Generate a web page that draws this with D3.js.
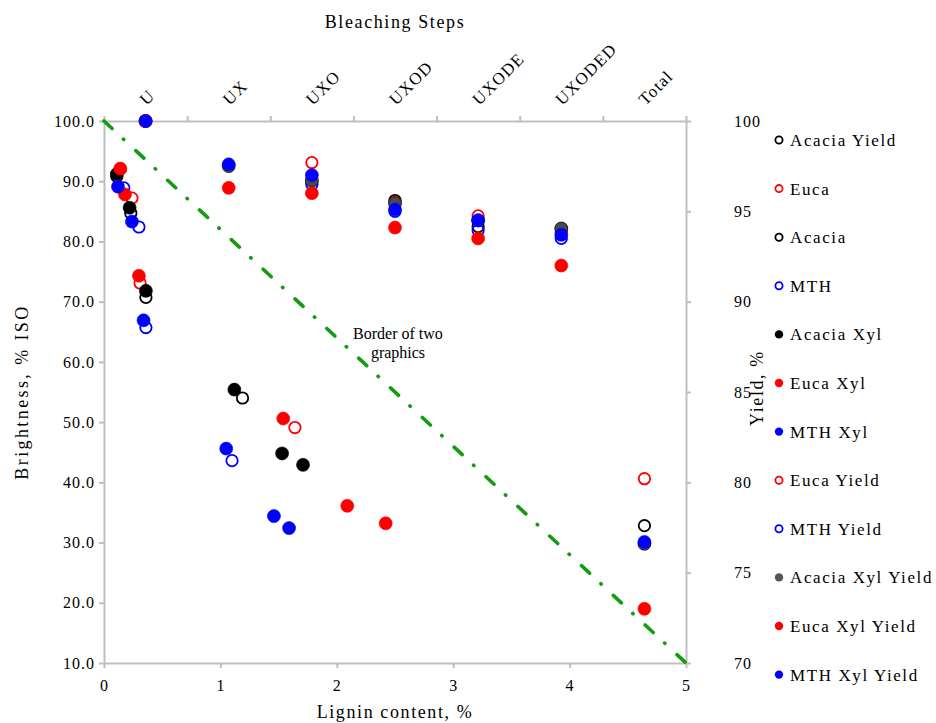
<!DOCTYPE html>
<html>
<head>
<meta charset="utf-8">
<style>
body { margin: 0; background: #fff; }
text { font-family: "Liberation Serif", "Times New Roman", serif; fill: #000; }
.axis path, .axis line { stroke: #bfbfbf; stroke-width: 2px; }
.axis text { font-size: 16px; letter-spacing: 1px; }
.title { font-size: 18px; letter-spacing: 1.6px; }
.legend text { font-size: 17px; letter-spacing: 1.6px; }
</style>
<title></title></head>
<body>
<script src="https://cdn.jsdelivr.net/npm/d3@7"></script>
<script>

// bleaching steps (top axis)
var steps = ["U", "UX", "UXO", "UXOD", "UXODE", "UXODED", "Total"];

// brightness vs lignin content (lower left graphic)
var eucaLignin = [0.14, 0.24, 0.31, 1.64];
var eucaBright = [92.0, 87.2, 73.1, 49.1];
var acaciaLignin = [0.11, 0.23, 0.36, 1.19];
var acaciaBright = [90.8, 84.7, 70.7, 54.0];
var mthLignin = [0.17, 0.30, 0.36, 1.10];
var mthBright = [88.9, 82.4, 65.7, 43.6];
var acaciaXylLignin = [0.11, 0.22, 0.36, 1.12, 1.53, 1.71];
var acaciaXylBright = [91.2, 85.6, 71.8, 55.4, 44.8, 42.9];
var eucaXylLignin = [0.14, 0.18, 0.30, 1.54, 2.09, 2.42];
var eucaXylBright = [92.1, 87.8, 74.3, 50.6, 36.1, 33.2];
var mthXylLignin = [0.12, 0.24, 0.34, 1.05, 1.46, 1.59];
var mthXylBright = [89.1, 83.3, 66.9, 45.6, 34.4, 32.4];

// yield per bleaching step (upper right graphic), null = no value
var acaciaYield = [100, null, 96.7, 95.6, 94.15, 94.05, 77.6];
var eucaYield = [100, null, 97.7, 95.5, 94.75, 93.85, 80.2];
var mthYield = [100, null, 96.5, 95.0, 93.95, 93.5, 76.6];
var acaciaXylYield = [100, 97.5, 96.7, 95.45, 94.5, 94.05, 76.6];
var eucaXylYield = [100, 96.3, 96.0, 94.1, 93.5, 92.0, 73.0];
var mthXylYield = [100, 97.6, 97.0, 95.1, 94.5, 93.7, 76.7];

// border line between the two graphics
var borderLignin = [0, 5];
var borderBright = [100, 10];

var width = 936, height = 723;
var mLeft = 104, mRight = 686, mTop = 121, mBottom = 663;

var svg = d3.select("body").append("svg")
    .attr("width", width)
    .attr("height", height);

var x = d3.scaleLinear().domain([0, 5]).range([mLeft, mRight]);
var yB = d3.scaleLinear().domain([10, 100]).range([mBottom, mTop]);
var yY = d3.scaleLinear().domain([70, 100]).range([mBottom, mTop]);
var xS = d3.scaleBand().domain(steps).range([mLeft, mRight]);
var xEdge = d3.scaleLinear().domain([0, steps.length]).range([mLeft, mRight]);

// axes
svg.append("g").attr("class", "axis")
    .attr("transform", "translate(0," + mBottom + ")")
    .call(d3.axisBottom(x).ticks(5).tickFormat(d3.format("d")).tickSize(5).tickSizeOuter(0).tickPadding(12));

svg.append("g").attr("class", "axis")
    .attr("transform", "translate(" + mLeft + ",0)")
    .call(d3.axisLeft(yB).tickValues(d3.range(10, 101, 10)).tickFormat(d3.format(".1f")).tickSize(5).tickSizeOuter(0).tickPadding(4));

var rAxis = svg.append("g").attr("class", "axis")
    .attr("transform", "translate(" + mRight + ",0)")
    .call(d3.axisRight(yY).tickValues(d3.range(70, 101, 5)).tickSize(5).tickSizeOuter(0).tickPadding(50));
rAxis.selectAll("text").attr("text-anchor", "start").attr("x", 48);

svg.append("g").attr("class", "axis")
    .attr("transform", "translate(0," + mTop + ")")
    .call(d3.axisTop(xEdge).tickValues(d3.range(0, steps.length + 1)).tickFormat("").tickSize(5).tickSizeOuter(0));

svg.append("g").selectAll("text")
    .data(steps)
    .enter().append("text")
    .attr("transform", function(d) { return "translate(" + (xS(d) + xS.bandwidth() / 2 + 1) + ",106) rotate(-45)"; })
    .style("font-size", "17px")
    .style("letter-spacing", "1.2px")
    .text(function(d) { return d; });

// titles
svg.append("text").attr("class", "title")
    .attr("x", 395).attr("y", 28).attr("text-anchor", "middle")
    .text("Bleaching Steps");
svg.append("text").attr("class", "title")
    .attr("x", 395).attr("y", 718).attr("text-anchor", "middle")
    .text("Lignin content, %");
svg.append("text").attr("class", "title")
    .attr("transform", "translate(28,392) rotate(-90)").attr("text-anchor", "middle")
    .style("letter-spacing", "2.4px")
    .text("Brightness, % ISO");
svg.append("text").attr("class", "title")
    .attr("transform", "translate(763,388) rotate(-90)").attr("text-anchor", "middle")
    .text("Yield, %");

// border of two graphics
svg.append("path")
    .datum(d3.zip(borderLignin, borderBright))
    .attr("d", d3.line().x(function(d) { return x(d[0]); }).y(function(d) { return yB(d[1]); }))
    .attr("fill", "none")
    .attr("stroke", "#129c12")
    .attr("stroke-width", 3.6)
    .attr("stroke-linecap", "round")
    .attr("stroke-dasharray", "11,15.5,0.5,16.5");

svg.append("text").attr("x", 398).attr("y", 339).attr("text-anchor", "middle")
    .style("font-size", "16px").text("Border of two");
svg.append("text").attr("x", 398).attr("y", 358).attr("text-anchor", "middle")
    .style("font-size", "16px").text("graphics");

// series, in legend order (later drawn on top)
function bright(name, lx, by, color, filled) {
  return { name: name, color: color, filled: filled,
    pts: lx.map(function(v, i) { return [x(v), yB(by[i])]; }) };
}
function yld(name, ys, color, filled) {
  return { name: name, color: color, filled: filled,
    pts: ys.map(function(v, i) { return v == null ? null : [xS(steps[i]) + xS.bandwidth() / 2, yY(v)]; })
           .filter(function(p) { return p; }) };
}

var series = [
  yld("Acacia Yield", acaciaYield, "#000", false),
  bright("Euca", eucaLignin, eucaBright, "#ff0000", false),
  bright("Acacia", acaciaLignin, acaciaBright, "#000", false),
  bright("MTH", mthLignin, mthBright, "#0000ff", false),
  bright("Acacia Xyl", acaciaXylLignin, acaciaXylBright, "#000", true),
  bright("Euca Xyl", eucaXylLignin, eucaXylBright, "#ff0000", true),
  bright("MTH Xyl", mthXylLignin, mthXylBright, "#0000ff", true),
  yld("Euca  Yield", eucaYield, "#ff0000", false),
  yld("MTH Yield", mthYield, "#0000ff", false),
  yld("Acacia Xyl Yield", acaciaXylYield, "#4a4a4a", true),
  yld("Euca Xyl Yield", eucaXylYield, "#ff0000", true),
  yld("MTH Xyl Yield", mthXylYield, "#0000ff", true)
];

var sg = svg.append("g").selectAll("g")
    .data(series)
    .enter().append("g");

sg.selectAll("circle")
    .data(function(d) { return d.pts.map(function(p) { return { p: p, s: d }; }); })
    .enter().append("circle")
    .attr("cx", function(d) { return d.p[0]; })
    .attr("cy", function(d) { return d.p[1]; })
    .attr("r", function(d) { return d.s.filled ? 6.5 : 5.7; })
    .attr("fill", function(d) { return d.s.filled ? d.s.color : "none"; })
    .attr("stroke", function(d) { return d.s.filled && d.s.color == "#4a4a4a" ? "#000" : d.s.color; })
    .attr("stroke-width", function(d) { return d.s.filled ? 0.6 : 1.8; });

// legend
var lg = svg.append("g").attr("class", "legend")
    .selectAll("g")
    .data(series)
    .enter().append("g")
    .attr("transform", function(d, i) { return "translate(779," + (140 + i * 48.6) + ")"; });

lg.append("circle")
    .attr("r", function(d) { return d.filled ? 4.2 : 3.6; })
    .attr("fill", function(d) { return d.filled ? (d.color == "#4a4a4a" ? "#555" : d.color) : "none"; })
    .attr("stroke", function(d) { return d.filled ? "none" : d.color; })
    .attr("stroke-width", 1.8);

lg.append("text")
    .attr("x", 11)
    .attr("y", 6)
    .text(function(d) { return d.name; });

</script>
</body>
</html>
